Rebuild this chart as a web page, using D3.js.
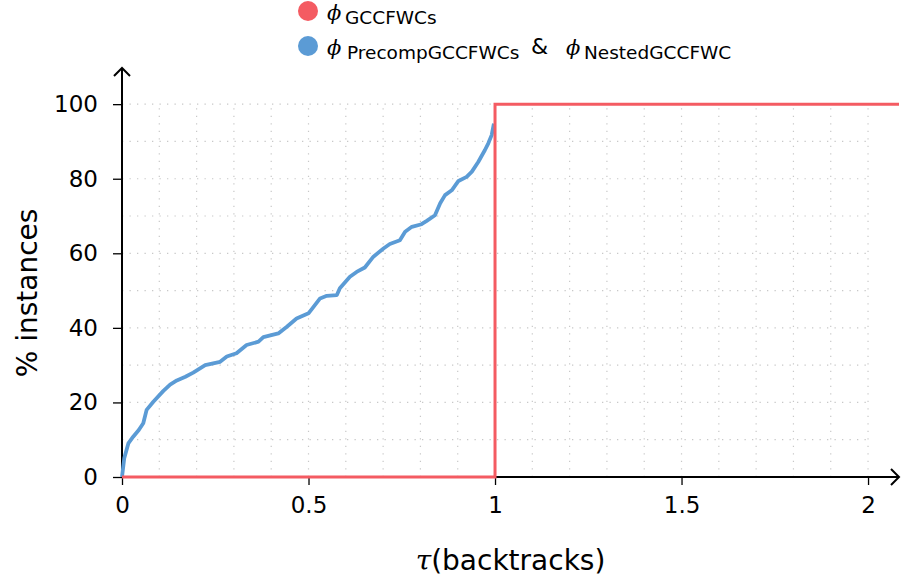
<!DOCTYPE html>
<html>
<head>
<meta charset="utf-8">
<script src="https://cdn.jsdelivr.net/npm/d3@7"></script>
<style>
	body{margin:0;background:#fff;}
	svg{display:block;}
</style>
</head>
<body>
<div id="chart"></div>
<script>
// 数据
var tauValues=[0,0.006,0.017,0.030,0.045,0.057,0.066,0.084,0.111,0.129,0.147,0.170,0.191,0.223,0.263,0.281,0.307,0.334,0.366,0.379,0.419,0.442,0.468,0.500,0.531,0.549,0.576,0.584,0.611,0.629,0.651,0.674,0.701,0.718,0.745,0.759,0.777,0.803,0.817,0.839,0.853,0.866,0.884,0.902,0.924,0.938,0.955,0.973,0.982,0.991,0.997];
var precompPct=[0,5.0,9.0,10.8,12.6,14.4,18.0,20.2,23.1,24.8,25.9,26.9,28.0,30.0,30.9,32.3,33.2,35.4,36.3,37.5,38.5,40.3,42.5,43.9,47.9,48.6,48.8,50.6,53.7,55.0,56.2,59.1,61.3,62.5,63.5,65.8,67.1,67.8,68.7,70.2,73.4,75.6,76.9,79.4,80.5,81.9,84.5,87.7,89.5,91.7,94.8];
var gccTau=[0,1,1,2.083];
var gccPct=[0,0,100,100];
var xTicks=[0,0.5,1,1.5,2];
var xTickLabels=['0','0.5','1','1.5','2'];
var yTicks=[0,20,40,60,80,100];
var seriesNames=[['GCCFWCs'],['PrecompGCCFWCs','NestedGCCFWC']];
var seriesColors=['#f45b62','#5b9bd5'];

var W=901,H=578;
var svg=d3.select('#chart').append('svg')
	.attr('width',W).attr('height',H)
	.attr('font-family','DejaVu Sans');

var x=d3.scaleLinear().domain([0,2.083]).range([122,899]);
var y=d3.scaleLinear().domain([0,109.7]).range([477,68]);

// 网格（点线）
var gGrid=svg.append('g').attr('stroke','#c8c8c8').attr('stroke-width',1.2).attr('stroke-dasharray','1.3,6.2');
d3.range(1,21).forEach(function(i){
	var v=i/10;
	gGrid.append('line').attr('x1',x(v)).attr('x2',x(v)).attr('y1',y(0)).attr('y2',y(100));
});
d3.range(1,11).forEach(function(i){
	var v=i*10;
	gGrid.append('line').attr('x1',x(0)).attr('x2',x(2)).attr('y1',y(v)).attr('y2',y(v));
});

// 坐标轴
var gx=svg.append('g').attr('transform','translate(0,'+y(0)+')')
	.call(d3.axisBottom(x).tickValues(xTicks).tickFormat(function(d,i){return xTickLabels[i];}).tickSize(8).tickPadding(12));
var gy=svg.append('g').attr('transform','translate('+x(0)+',0)')
	.call(d3.axisLeft(y).tickValues(yTicks).tickSize(9).tickPadding(15));
[gx,gy].forEach(function(g){
	g.select('.domain').remove();
	g.selectAll('.tick line').attr('stroke','#000').attr('stroke-width',1.3);
	g.selectAll('.tick text').attr('fill','#000').attr('font-size',23).attr('font-family','DejaVu Sans');
});

svg.append('line').attr('x1',x(0)).attr('x2',x(2.083)).attr('y1',y(0)).attr('y2',y(0))
	.attr('stroke','#000').attr('stroke-width',2);
svg.append('line').attr('x1',x(0)).attr('x2',x(0)).attr('y1',y(0)).attr('y2',y(109.7))
	.attr('stroke','#000').attr('stroke-width',2);
// 箭头
svg.append('path').attr('d','M'+(x(2.083)-8)+','+(y(0)-8)+' L'+x(2.083)+','+y(0)+' L'+(x(2.083)-8)+','+(y(0)+8))
	.attr('fill','none').attr('stroke','#000').attr('stroke-width',2);
svg.append('path').attr('d','M'+(x(0)-8)+','+(y(109.7)+8)+' L'+x(0)+','+y(109.7)+' L'+(x(0)+8)+','+(y(109.7)+8))
	.attr('fill','none').attr('stroke','#000').attr('stroke-width',2);

// 曲线
var line=d3.line().x(function(d){return x(d[0]);}).y(function(d){return y(d[1]);});
svg.append('path').datum(d3.zip(tauValues,precompPct))
	.attr('d',line).attr('fill','none').attr('stroke',seriesColors[1]).attr('stroke-width',3.8)
	.attr('stroke-linejoin','round');
svg.append('path').datum(d3.zip(gccTau,gccPct))
	.attr('d',line).attr('fill','none').attr('stroke',seriesColors[0]).attr('stroke-width',3);

// 轴标题
var xl=svg.append('text').attr('x',(x(0)+x(2.083))/2).attr('y',570)
	.attr('text-anchor','middle').attr('font-size',28);
xl.append('tspan').attr('font-family','DejaVu Serif').attr('font-style','italic').text('τ');
xl.append('tspan').text('(backtracks)');

svg.append('text').attr('transform','translate(37,293) rotate(-90)')
	.attr('text-anchor','middle').attr('font-size',28).text('% instances');

// 图例
var phiX=[[327],[327,566]],subX=[[345],[347,584]];
seriesNames.forEach(function(names,i){
	var cy=11+i*35;
	svg.append('circle').attr('cx',308).attr('cy',cy).attr('r',10).attr('fill',seriesColors[i]);
	names.forEach(function(n,j){
		svg.append('text').attr('x',phiX[i][j]).attr('y',cy+9).attr('font-size',21)
			.attr('font-family','DejaVu Serif').attr('font-style','italic').text('ϕ');
		svg.append('text').attr('x',subX[i][j]).attr('y',cy+13).attr('font-size',18.5).text(n);
		if(j>0) svg.append('text').attr('x',531).attr('y',cy+8).attr('font-size',22).text('&');
	});
});
</script>
</body>
</html>
